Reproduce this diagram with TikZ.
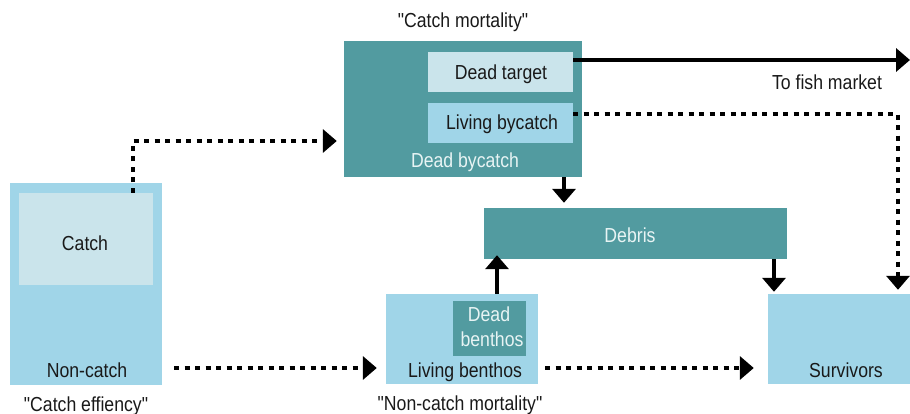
\documentclass[tikz,border=0pt]{standalone}
\usepackage{fontspec}
\setmainfont{Liberation Sans}[FakeStretch=0.87, Ligatures=TeXOff]
\usetikzlibrary{arrows.meta,calc}
\definecolor{tealbox}{RGB}{82,155,160}
\definecolor{lblue}{RGB}{160,213,232}
\definecolor{pale}{RGB}{202,228,235}
\definecolor{txt}{RGB}{25,25,25}
\definecolor{ltxt}{RGB}{232,244,244}
\begin{document}
\begin{tikzpicture}[x=1pt,y=-1pt,
  font=\fontsize{20.3}{23}\selectfont,
  box/.style={rectangle, inner sep=0pt, draw=none},
  tealb/.style={box, fill=tealbox},
  blueb/.style={box, fill=lblue},
  paleb/.style={box, fill=pale},
  lbl/.style={anchor=base, inner sep=0pt, text=txt},
  llbl/.style={anchor=base, inner sep=0pt, text=ltxt},
  arr/.style={line width=4.5pt, draw=black, -{Triangle[width=23pt,length=14pt]}},
  dots/.style={arr, dash pattern=on 5pt off 5.5pt}]
\useasboundingbox (0,0) rectangle (910,414);

% boxes
\node[blueb, minimum width=152pt, minimum height=202pt] (noncatch) at (86,284) {};
\node[paleb, minimum width=134pt, minimum height=92pt] (catch) at (86,239) {};
\node[tealb, minimum width=238pt, minimum height=136pt] (mort) at (463,109) {};
\node[paleb, minimum width=145pt, minimum height=40pt] (deadtarget) at (500.5,72) {};
\node[blueb, minimum width=145pt, minimum height=40pt] (livbyc) at (500.5,123) {};
\node[tealb, minimum width=303pt, minimum height=51pt] (debris) at (635.5,233.5) {};
\node[blueb, minimum width=142pt, minimum height=90pt] (survivors) at (839,339) {};
\node[blueb, minimum width=152pt, minimum height=90pt] (livbenth) at (462,339) {};
\node[tealb, minimum width=73pt, minimum height=55pt] (deadbenth) at (489.5,328.5) {};

% labels
\node[lbl] (t-cm) at (463,28) {"Catch mortality"};
\node[lbl] (t-dt) at (501,80) {Dead target};
\node[lbl] (t-lb) at (502,130) {Living bycatch};
\node[llbl] (t-db) at (465,168) {Dead bycatch};
\node[lbl] (t-catch) at (85,251) {Catch};
\node[lbl] (t-nc) at (87,377) {Non-catch};
\node[lbl] (t-ce) at (86,411) {"Catch effiency"};
\node[llbl] (t-debris) at (630,242) {Debris};
\node[lbl] (t-fm) at (827,90) {To fish market};
\node[lbl] (t-surv) at (846,377) {Survivors};
\node[llbl] (t-dead) at (489,321) {Dead};
\node[llbl] (t-benth) at (492,346) {benthos};
\node[lbl] (t-lbe) at (465,377) {Living benthos};
\node[lbl] (t-ncm) at (460,410) {"Non-catch mortality"};

\coordinate (market) at (910,60);

% connectors
\draw[dots] ($(catch.north)+(47,0)$) |- ($(mort.west)+(-7,32)$);
\draw[arr] ($(deadtarget.east)+(0,-12)$) -- (market);
\draw[dots] ($(livbyc.east)+(0,-9)$) -| ($(survivors.north)+(59,-4)$);
\draw[arr] ($(mort.south)+(101,0)$) -- ($(debris.north)+(-71.5,-5)$);
\draw[arr] ($(debris.south)+(138.5,0)$) -- ($(survivors.north)+(-65,-2)$);
\draw[arr] ($(livbenth.north)+(35,0)$) -- ($(debris.south)+(-138.5,-4)$);
\draw[dots] ($(noncatch.east)+(12,84)$) -- ($(livbenth.west)+(-9,29)$);
\draw[dots] ($(livbenth.east)+(7,29)$) -- ($(survivors.west)+(-14,29)$);
\end{tikzpicture}
\end{document}
